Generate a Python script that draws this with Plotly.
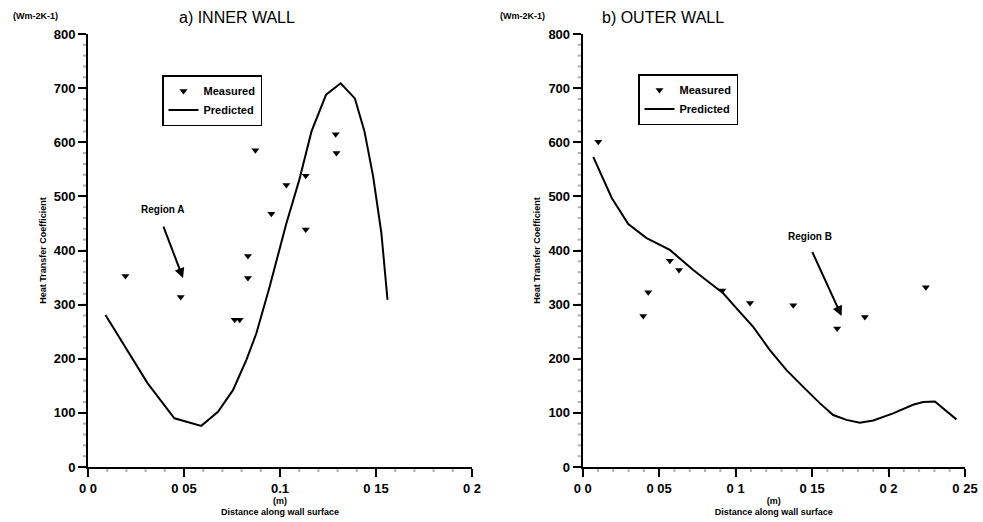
import numpy as np
import plotly.graph_objects as go
from plotly.subplots import make_subplots

# a) inner wall
inner_meas_x = [0.0195, 0.0483, 0.0764, 0.0790, 0.0833, 0.0833, 0.0872, 0.0955, 0.1033, 0.1134, 0.1134, 0.1290, 0.1294]
inner_meas_y = [353, 314, 272, 272, 390, 349, 585, 468, 521, 538, 439, 615, 580]
inner_pred_x = [0.0091, 0.031, 0.045, 0.059, 0.0677, 0.0755, 0.0825, 0.0877, 0.0946, 0.1033,
                0.110, 0.1164, 0.124, 0.1316, 0.139, 0.144, 0.1485, 0.1528, 0.156]
inner_pred_y = [281, 155, 90, 76, 102, 142, 198, 247, 333, 450,
                530, 620, 688, 709, 681, 620, 537, 432, 309]

# b) outer wall
outer_meas_x = [0.0102, 0.0396, 0.0429, 0.057, 0.063, 0.0913, 0.1094, 0.1377, 0.1664, 0.1845, 0.2244]
outer_meas_y = [601, 279, 323, 381, 364, 326, 303, 299, 256, 277, 332]
outer_pred_x = [0.0069, 0.019, 0.0298, 0.0418, 0.057, 0.0723, 0.0832, 0.0919, 0.1006, 0.1115,
                0.1224, 0.1333, 0.1442, 0.155, 0.1638, 0.1725, 0.1812, 0.19, 0.203, 0.216,
                0.2226, 0.2303, 0.2444]
outer_pred_y = [573, 497, 449, 423, 401, 364, 340, 321, 293, 259,
                216, 179, 148, 118, 96, 87, 82, 86, 99, 115,
                120, 121, 88]

# tick label text as printed on the axes
inner_tick_alias = {"0": "0 0", "0.05": "0 05", "0.1": "0.1", "0.15": "0 15", "0.2": "0 2"}
outer_tick_alias = {"0": "0 0", "0.05": "0 05", "0.1": "0 1", "0.15": "0 15", "0.2": "0 2", "0.25": "0 25"}

FONT = "Liberation Sans"
W, H = 983, 522

fig = make_subplots(rows=1, cols=2)

marker = dict(symbol="triangle-down", size=7, color="black")
line = dict(color="black", width=2)

fig.add_trace(go.Scatter(x=inner_meas_x, y=inner_meas_y, mode="markers", marker=marker,
                         name="Measured", legend="legend"), row=1, col=1)
fig.add_trace(go.Scatter(x=inner_pred_x, y=inner_pred_y, mode="lines", line=line,
                         name="Predicted", legend="legend"), row=1, col=1)
fig.add_trace(go.Scatter(x=outer_meas_x, y=outer_meas_y, mode="markers", marker=marker,
                         name="Measured", legend="legend2"), row=1, col=2)
fig.add_trace(go.Scatter(x=outer_pred_x, y=outer_pred_y, mode="lines", line=line,
                         name="Predicted", legend="legend2"), row=1, col=2)

ydom = [(H - 467) / H, (H - 34) / H]
xdom1 = [88 / W, 472 / W]
xdom2 = [582.7 / W, 965 / W]
xrange1 = [0, 0.2]
xrange2 = [0, 0.25]
yrange = [0, 800]

tickfont = dict(family=FONT, size=13, color="black", weight="bold")
small = dict(family=FONT, size=9, color="black", weight="bold")

common_x = dict(showgrid=False, zeroline=False, showline=True, linecolor="black", linewidth=2,
                automargin=False, tickmode="linear", tick0=0, dtick=0.05,
                ticks="outside", ticklen=8, tickwidth=2, tickcolor="black", tickfont=tickfont,
                title=dict(text="(m)<br>Distance along wall surface", font=small, standoff=0))
common_y = dict(showgrid=False, zeroline=False, showline=True, linecolor="black", linewidth=2,
                automargin=False, range=yrange, tickmode="linear", tick0=0, dtick=100,
                ticks="outside", ticklen=8, tickwidth=2, tickcolor="black", tickfont=tickfont,
                title=dict(text="Heat Transfer Coefficient", font=small, standoff=6))

fig.update_xaxes(common_x, row=1, col=1)
fig.update_xaxes(common_x, row=1, col=2)
fig.update_xaxes(domain=xdom1, range=xrange1, labelalias=inner_tick_alias, row=1, col=1)
fig.update_xaxes(domain=xdom2, range=xrange2, labelalias=outer_tick_alias, row=1, col=2)
fig.update_yaxes(common_y, row=1, col=1)
fig.update_yaxes(common_y, row=1, col=2)
fig.update_yaxes(domain=ydom, row=1, col=1)
fig.update_yaxes(domain=ydom, row=1, col=2)

# small intermediate ticks between the labelled ones (every 0.01 m and every 20 units)
tick_style = dict(type="line", line=dict(color="black", width=2), layer="above")
for xref, yref, xr in (("x", "y", xrange1), ("x2", "y2", xrange2)):
    n_x = int(round((xr[1] - xr[0]) / 0.01))
    for v in np.linspace(xr[0], xr[1], n_x + 1):
        fig.add_shape(tick_style, xref=xref, yref=f"{yref} domain", x0=v, x1=v,
                      ysizemode="pixel", yanchor=0, y0=0, y1=-5)
    n_y = int(round((yrange[1] - yrange[0]) / 20))
    for v in np.linspace(yrange[0], yrange[1], n_y + 1):
        fig.add_shape(tick_style, xref=f"{xref} domain", yref=yref, y0=v, y1=v,
                      xsizemode="pixel", xanchor=0, x0=0, x1=-5)

legend_style = dict(font=dict(family=FONT, size=11, color="black", weight="bold"),
                    bordercolor="black", borderwidth=1.5, bgcolor="white",
                    xanchor="left", yanchor="top", itemwidth=30, tracegroupgap=0)

fig.update_layout(
    template="simple_white",
    width=W, height=H,
    margin=dict(l=0, r=0, t=0, b=0, autoexpand=False),
    paper_bgcolor="white", plot_bgcolor="white",
    legend=dict(legend_style, x=162 / W, y=1 - 75 / H),
    legend2=dict(legend_style, x=638 / W, y=1 - 74 / H),
)

# panel titles and units
fig.add_annotation(text="a) INNER WALL", x=237 / W, y=1 - 17 / H, xref="paper", yref="paper",
                   xanchor="center", yanchor="middle", showarrow=False,
                   font=dict(family=FONT, size=16, color="black"))
fig.add_annotation(text="b) OUTER WALL", x=663 / W, y=1 - 17 / H, xref="paper", yref="paper",
                   xanchor="center", yanchor="middle", showarrow=False,
                   font=dict(family=FONT, size=16, color="black"))
fig.add_annotation(text="(Wm-2K-1)", x=35 / W, y=1 - 16 / H, xref="paper", yref="paper",
                   xanchor="center", yanchor="middle", showarrow=False, font=small)
fig.add_annotation(text="(Wm-2K-1)", x=522 / W, y=1 - 16 / H, xref="paper", yref="paper",
                   xanchor="center", yanchor="middle", showarrow=False, font=small)

# region callouts
region_font = dict(family=FONT, size=10, color="black", weight="bold")
fig.add_annotation(text="Region A", x=0.039, y=476, xref="x", yref="y", xanchor="center",
                   showarrow=False, font=region_font)
fig.add_annotation(x=0.0495, y=349, ax=0.039, ay=447, xref="x", yref="y", axref="x", ayref="y",
                   text="", showarrow=True, arrowhead=2, arrowsize=1, arrowwidth=2, arrowcolor="black")
fig.add_annotation(text="Region B", x=0.1488, y=426, xref="x2", yref="y2", xanchor="center",
                   showarrow=False, font=region_font)
fig.add_annotation(x=0.1693, y=279, ax=0.1497, ay=400, xref="x2", yref="y2", axref="x2", ayref="y2",
                   text="", showarrow=True, arrowhead=2, arrowsize=1, arrowwidth=2, arrowcolor="black")

fig.write_html("out.html")
